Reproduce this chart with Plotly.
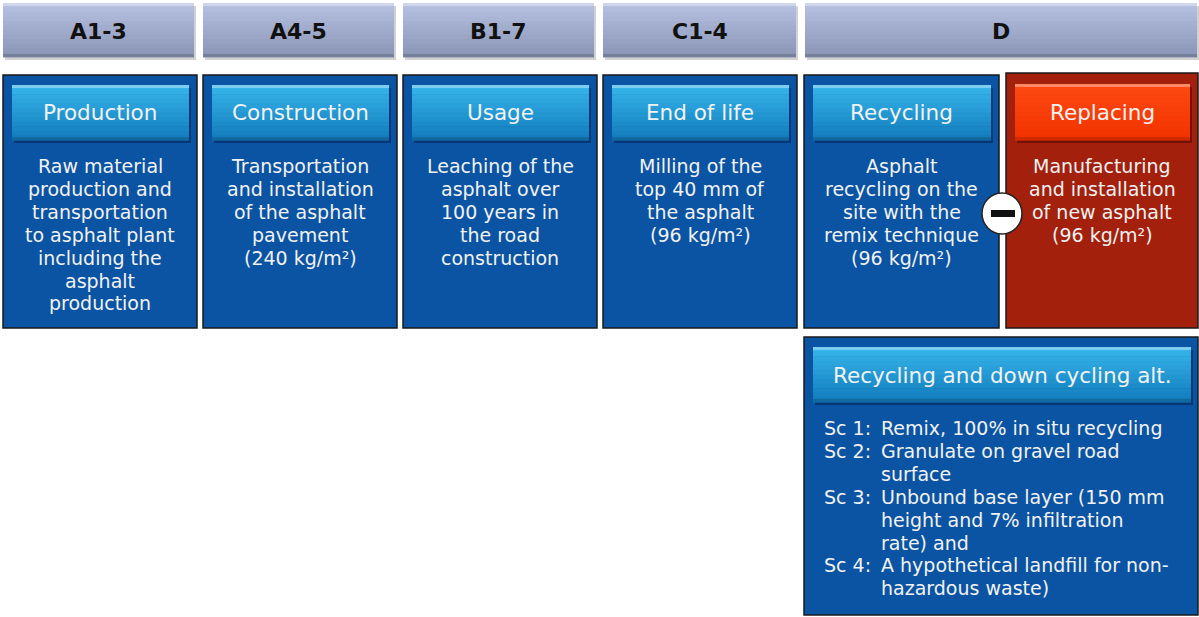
import plotly.graph_objects as go

W, H = 1199, 617

# ---- content ----
header_labels = ["A1-3", "A4-5", "B1-7", "C1-4", "D"]
header_x = [(3, 194), (203, 394), (403, 594), (603, 796), (805, 1197)]

stage_titles = ["Production", "Construction", "Usage", "End of life", "Recycling", "Replacing"]
stage_texts = [
    ["Raw material", "production and", "transportation", "to asphalt plant", "including the", "asphalt", "production"],
    ["Transportation", "and installation", "of the asphalt", "pavement", "(240 kg/m²)"],
    ["Leaching of the", "asphalt over", "100 years in", "the road", "construction"],
    ["Milling of the", "top 40 mm of", "the asphalt", "(96 kg/m²)"],
    ["Asphalt", "recycling on the", "site with the", "remix technique", "(96 kg/m²)"],
    ["Manufacturing", "and installation", "of new asphalt", "(96 kg/m²)"],
]
stage_x = [(3, 197), (203, 397), (403, 597), (603, 797), (804, 999), (1006, 1198)]
stage_kind = ["blue", "blue", "blue", "blue", "blue", "red"]

alt_title = "Recycling and down cycling alt."
sc_labels = ["Sc 1:", "Sc 2:", "", "Sc 3:", "", "", "Sc 4:", ""]
sc_lines = [
    "Remix, 100% in situ recycling",
    "Granulate on gravel road",
    "surface",
    "Unbound base layer (150 mm",
    "height and 7% infiltration",
    "rate) and",
    "A hypothetical landfill for non-",
    "hazardous waste)",
]

FONT = "Verdana, DejaVu Sans"
TXT = "#f2f2f2"
BODY = 19
TITLE = 21.5
LINE = 22.9

shapes = []
annotations = []


def rect(x0, y0, x1, y1, fill, line=None, lw=0):
    shapes.append(dict(type="rect", xref="x", yref="y", x0=x0, y0=y0, x1=x1, y1=y1,
                       fillcolor=fill, line=dict(color=line or fill, width=lw), layer="above"))


def hx(c):
    return tuple(int(c[i:i + 2], 16) for i in (1, 3, 5))


def button(x0, y0, x1, y1, top, bottom, shadow):
    rect(x0 + 2, y0 + 3, x1 + 2, y1 + 3, shadow)
    n = 12
    h = (y1 - y0) / n
    t, b = hx(top), hx(bottom)
    for i in range(n):
        f = i / (n - 1)
        c = tuple(int(t[k] + (b[k] - t[k]) * f) for k in range(3))
        rect(x0, y0 + i * h, x1, y0 + (i + 1) * h + 0.6, "rgb(%d,%d,%d)" % c)
    rect(x0, y0, x1, y0 + 3, "rgba(255,255,255,0.35)")
    rect(x0, y1 - 3, x1, y1, "rgba(0,0,0,0.15)")


def text(x, y, s, size, anchor="center", color=TXT):
    annotations.append(dict(x=x, y=y, xref="x", yref="y", text=s, showarrow=False,
                            font=dict(family=FONT, size=size, color=color),
                            xanchor=anchor, yanchor="middle"))


# header bars
for (x0, x1), lab in zip(header_x, header_labels):
    button(x0, 3, x1, 57, "#b6c1e1", "#8c97b7", "rgba(0,0,0,0.18)")
    text((x0 + x1) / 2, 31, "<b>%s</b>" % lab, 22, color="#111111")

# stage boxes
for (x0, x1), title, lines, kind in zip(stage_x, stage_titles, stage_texts, stage_kind):
    if kind == "blue":
        rect(x0, 75, x1, 328, "#0b54a3", "#1a1a1a", 1.5)
        button(x0 + 9, 85, x1 - 8, 140, "#36b4ea", "#137dbd", "rgba(0,20,60,0.45)")
    else:
        rect(x0, 73, x1, 328, "#a3200d", "#1a1a1a", 1.5)
        button(x0 + 9, 84, x1 - 8, 140, "#ff4a12", "#f23300", "rgba(60,0,0,0.45)")
    text((x0 + x1) / 2, 112, title, TITLE)
    for i, ln in enumerate(lines):
        text((x0 + x1) / 2, 166 + i * LINE, ln, BODY)

# minus circle
shapes.append(dict(type="circle", xref="x", yref="y", x0=982, y0=193, x1=1022, y1=234,
                   fillcolor="white", line=dict(color="#222222", width=1.5), layer="above"))
rect(991, 210, 1015, 217, "#111111")

# alternatives box
rect(804, 337, 1198, 615, "#0b54a3", "#1a1a1a", 1.5)
button(813, 347, 1191, 402, "#36b4ea", "#137dbd", "rgba(0,20,60,0.45)")
text(1002, 375, alt_title, TITLE)
for i, (lab, line) in enumerate(zip(sc_labels, sc_lines)):
    yy = 428 + i * LINE
    if lab:
        text(822, yy, lab, BODY, anchor="left")
    text(879, yy, line, BODY, anchor="left")

fig = go.Figure()
fig.add_trace(go.Scatter(x=[0, W], y=[0, H], mode="markers", marker=dict(opacity=0),
                         hoverinfo="skip", showlegend=False))
fig.update_layout(
    width=W, height=H, margin=dict(l=0, r=0, t=0, b=0),
    paper_bgcolor="white", plot_bgcolor="white",
    xaxis=dict(range=[0, W], visible=False, fixedrange=True),
    yaxis=dict(range=[H, 0], visible=False, fixedrange=True),
    shapes=shapes, annotations=annotations, showlegend=False,
)
fig.write_html("out.html", config={"displayModeBar": False},
               post_script="document.body.style.margin='0';document.body.style.overflow='hidden';")
